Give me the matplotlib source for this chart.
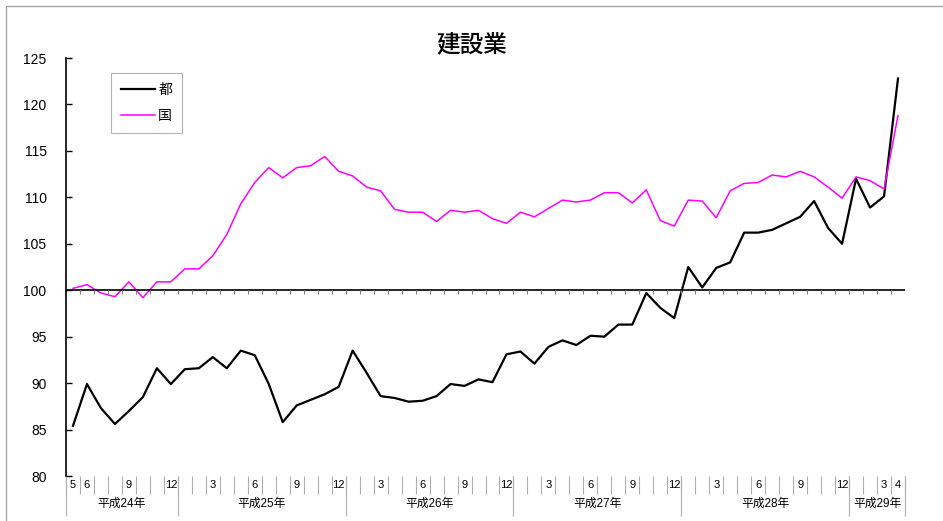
import matplotlib.pyplot as plt
import matplotlib.transforms as mtransforms
from matplotlib.patches import Rectangle
import numpy as np

plt.rcParams['font.family'] = ['Liberation Sans', 'Noto Sans CJK JP']

# 平成24年5月 ～ 平成29年4月 (60 months)
month_labels = ['5', '6', '', '', '9', '', '', '12',
                '', '', '3', '', '', '6', '', '', '9', '', '', '12',
                '', '', '3', '', '', '6', '', '', '9', '', '', '12',
                '', '', '3', '', '', '6', '', '', '9', '', '', '12',
                '', '', '3', '', '', '6', '', '', '9', '', '', '12',
                '', '', '3', '4']
year_labels = ['平成24年', '平成25年', '平成26年', '平成27年', '平成28年', '平成29年']
year_counts = [8, 12, 12, 12, 12, 4]

tokyo = [85.4, 89.9, 87.3, 85.6, 87.0, 88.5, 91.6, 89.9,
         91.5, 91.6, 92.8, 91.6, 93.5, 93.0, 89.9, 85.8, 87.6, 88.2, 88.8, 89.6,
         93.5, 91.1, 88.6, 88.4, 88.0, 88.1, 88.6, 89.9, 89.7, 90.4, 90.1, 93.1,
         93.4, 92.1, 93.9, 94.6, 94.1, 95.1, 95.0, 96.3, 96.3, 99.7, 98.1, 97.0,
         102.5, 100.3, 102.4, 103.0, 106.2, 106.2, 106.5, 107.2, 107.9, 109.6, 106.7, 105.0,
         112.0, 108.9, 110.1, 122.8]
japan = [100.2, 100.6, 99.7, 99.3, 100.9, 99.2, 100.9, 100.9,
         102.3, 102.3, 103.7, 106.0, 109.3, 111.6, 113.2, 112.1, 113.2, 113.4, 114.4, 112.8,
         112.3, 111.1, 110.7, 108.7, 108.4, 108.4, 107.4, 108.6, 108.4, 108.6, 107.7, 107.2,
         108.4, 107.9, 108.8, 109.7, 109.5, 109.7, 110.5, 110.5, 109.4, 110.8, 107.5, 106.9,
         109.7, 109.6, 107.8, 110.7, 111.5, 111.6, 112.4, 112.2, 112.8, 112.2, 111.1, 109.9,
         112.2, 111.8, 110.9, 118.8]

W, H = 943, 521
fig = plt.figure(figsize=(W / 100, H / 100), dpi=100)
fig.patches.append(Rectangle((6 / W, -0.1), 1.2, 1 - 6 / H + 0.1, transform=fig.transFigure,
                             fill=False, edgecolor='#a6a6a6', lw=1))

ax_l, ax_r, ax_t, ax_b = 66, 905, 58, 476
ax = fig.add_axes([ax_l / W, 1 - ax_b / H, (ax_r - ax_l) / W, (ax_b - ax_t) / H])
ax_h = ax_b - ax_t

x = np.arange(len(tokyo))
ax.plot(x, tokyo, color='black', lw=1.6, label='都')
ax.plot(x, japan, color='#ff00ff', lw=1.1, label='国')

ax.set_xlim(-0.5, len(tokyo) - 0.5)
ax.set_ylim(80, 125)
ax.set_yticks(np.arange(80, 126, 5))
ax.tick_params(axis='y', direction='in', length=4, width=1, pad=14, labelsize=10)
ax.set_xticks([])
for s in ['top', 'right', 'bottom']:
    ax.spines[s].set_visible(False)
ax.spines['left'].set_linewidth(1.2)

# category axis crossing at 100
bounds = np.arange(-0.5, len(tokyo), 1)
ax.axhline(100, color='black', lw=1.2)
ax.vlines(bounds, 100 - 4 * 45 / ax_h, 100, color='#808080', lw=0.8)

trans = mtransforms.blended_transform_factory(ax.transData, ax.transAxes)
ax.vlines(bounds, -18 / ax_h, 0, color='#b0b0b0', lw=0.8, transform=trans, clip_on=False)
for i, lab in enumerate(month_labels):
    ax.text(i, -9 / ax_h, lab, ha='center', va='center', fontsize=8, transform=trans)

edges = np.concatenate([[0], np.cumsum(year_counts)]) - 0.5
ax.vlines(edges, -40 / ax_h, 0, color='#b0b0b0', lw=0.8, transform=trans, clip_on=False)
for k, lab in enumerate(year_labels):
    ax.text((edges[k] + edges[k + 1]) / 2, -28 / ax_h, lab, ha='center', va='center',
            fontsize=8.5, transform=trans)

leg = ax.legend(loc='upper left', bbox_to_anchor=(45 / 839, (ax_b - 73) / ax_h),
                borderaxespad=0, fancybox=False, edgecolor='#a0a0a0', fontsize=10,
                handlelength=2.5, labelspacing=0.9, borderpad=0.7, handletextpad=0.2)
leg.get_frame().set_linewidth(0.8)

fig.text(472 / W, 1 - 45 / H, '建設業', ha='center', va='center', fontsize=17,
         fontweight='medium')

fig.savefig('out.png', dpi=100)
